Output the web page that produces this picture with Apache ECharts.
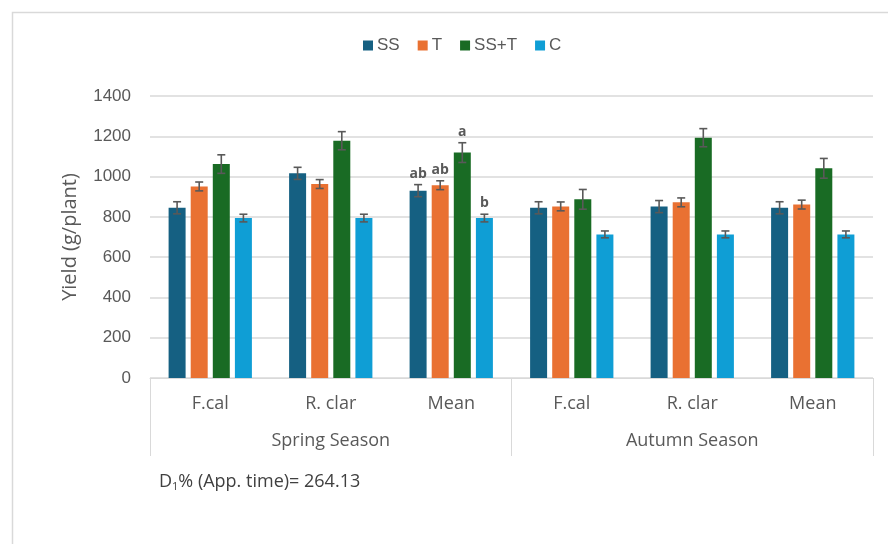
<!DOCTYPE html>
<html>
<head>
<meta charset="utf-8">
<script src="https://cdn.jsdelivr.net/npm/echarts@6/dist/echarts.min.js"></script>
<style>
html,body{margin:0;padding:0;background:#fff;}
#chart{width:888px;height:544px;}
</style>
</head>
<body>
<div id="chart"></div>
<script>
// ---- data ----
const categories = ['F.cal', 'R. clar', 'Mean', 'F.cal', 'R. clar', 'Mean'];
const seasons = ['Spring Season', 'Autumn Season'];
const seriesNames = ['SS', 'T', 'SS+T', 'C'];
const ssValues   = [845, 1016, 930, 845, 851, 845];
const tValues    = [951, 963, 957, 852, 872, 861];
const sstValues  = [1062, 1178, 1119, 887, 1193, 1041];
const cValues    = [794, 794, 794, 713, 713, 713];
const ssErr  = [30, 30, 30, 30, 30, 30];
const tErr   = [22, 22, 22, 22, 22, 22];
const sstErr = [46, 45, 49, 49, 45, 49];
const cErr   = [19, 19, 19, 17, 17, 17];
const ssSig  = ['', '', 'ab', '', '', ''];
const tSig   = ['', '', 'ab', '', '', ''];
const sstSig = ['', '', 'a', '', '', ''];
const cSig   = ['', '', 'b', '', '', ''];
const yTicks = [0, 200, 400, 600, 800, 1000, 1200, 1400];
const noteText = '264.13';

// ---- styles ----
const colors = ['#156082', '#E97132', '#196B24', '#0F9ED5'];
const textColor = '#595959';
const gridColor = '#d9d9d9';
const BAR_W = 17;
const BAR_GAP = 0.3;

const values = [ssValues, tValues, sstValues, cValues];
const errs = [ssErr, tErr, sstErr, cErr];
const sigs = [ssSig, tSig, sstSig, cSig];

const chart = echarts.init(document.getElementById('chart'), null, {renderer: 'canvas'});

const series = [];
seriesNames.forEach((name, si) => {
  series.push({
    name: name,
    type: 'bar',
    xAxisIndex: 0,
    barWidth: BAR_W,
    barGap: (BAR_GAP * 100) + '%',
    itemStyle: {color: colors[si]},
    data: values[si],
    z: 2
  });
});
seriesNames.forEach((name, si) => {
  const data = values[si].map((v, i) => [i, v - errs[si][i], v + errs[si][i], sigs[si][i]]);
  series.push({
    name: name + ' err',
    type: 'custom',
    xAxisIndex: 0,
    z: 5,
    silent: true,
    encode: {x: 0, y: [1, 2]},
    renderItem: function (params, api) {
      const idx = api.value(0);
      const lo = api.coord([idx, api.value(1)]);
      const hi = api.coord([idx, api.value(2)]);
      const step = BAR_W * (1 + BAR_GAP);
      const x = lo[0] + (si - 1.5) * step;
      const cap = 4;
      const st = {stroke: '#595959', lineWidth: 1.6};
      const children = [
        {type: 'line', shape: {x1: x, y1: lo[1], x2: x, y2: hi[1]}, style: st},
        {type: 'line', shape: {x1: x - cap, y1: lo[1], x2: x + cap, y2: lo[1]}, style: st},
        {type: 'line', shape: {x1: x - cap, y1: hi[1], x2: x + cap, y2: hi[1]}, style: st}
      ];
      const sig = data[params.dataIndex][3];
      if (sig) {
        children.push({
          type: 'text',
          style: {
            x: x, y: hi[1] - 4, text: sig,
            align: 'center', verticalAlign: 'bottom',
            fill: '#595959', font: 'bold 14px "Open Sans", "Liberation Sans", sans-serif'
          }
        });
      }
      return {type: 'group', children: children};
    },
    data: data
  });
});

const option = {
  animation: false,
  backgroundColor: '#ffffff',
  color: colors,
  textStyle: {fontFamily: '"Open Sans", "Liberation Sans", sans-serif'},
  legend: {
    data: seriesNames,
    top: 32,
    left: 358,
    itemWidth: 10,
    itemHeight: 10,
    itemGap: 18,
    icon: 'rect',
    textStyle: {color: textColor, fontSize: 17, fontFamily: '"Liberation Sans", Arial, sans-serif', padding: [0, 0, 0, -1]}
  },
  grid: {left: 150, right: 15, top: 96, bottom: 166, containLabel: false},
  xAxis: [
    {
      type: 'category',
      data: categories,
      position: 'bottom',
      axisLine: {show: true, lineStyle: {color: gridColor, width: 1}},
      axisTick: {
        show: true,
        length: 78,
        interval: function (index) { return index % 3 === 0; },
        lineStyle: {color: gridColor, width: 1}
      },
      axisLabel: {color: textColor, fontSize: 18, margin: 17, interval: 0},
      splitLine: {show: false}
    },
    {
      type: 'category',
      data: seasons,
      position: 'bottom',
      offset: 0,
      axisLine: {show: false},
      axisTick: {show: false},
      axisLabel: {color: textColor, fontSize: 18, margin: 54, interval: 0},
      splitLine: {show: false}
    }
  ],
  yAxis: {
    type: 'value',
    min: yTicks[0],
    max: yTicks[yTicks.length - 1],
    interval: yTicks[1] - yTicks[0],
    name: 'Yield (g/plant)',
    nameLocation: 'middle',
    nameGap: 70,
    nameRotate: 90,
    nameTextStyle: {color: textColor, fontSize: 20},
    axisLine: {show: false},
    axisTick: {show: false},
    axisLabel: {
      color: textColor, fontSize: 17, margin: 19,
      fontFamily: '"Liberation Sans", Arial, sans-serif',
      formatter: function (v) { return String(v); }
    },
    splitLine: {show: true, lineStyle: {color: gridColor, width: 1.5}}
  },
  graphic: [
    {
      type: 'rect',
      left: 10, top: 10, silent: true, z: -1,
      shape: {x: 0, y: 0, width: 1000, height: 700},
      style: {fill: 'none', stroke: gridColor, lineWidth: 1.5}
    },
    {
      type: 'text',
      left: 159, top: 473,
      style: {
        text: '{a|D}{s|1}{a|% (App. time)= ' + noteText + '}',
        rich: {
          a: {fontSize: 18, fill: '#404040', fontFamily: '"Open Sans", sans-serif'},
          s: {fontSize: 11, fill: '#404040', fontFamily: '"Open Sans", sans-serif', padding: [9, 0, 0, 0]}
        }
      }
    }
  ],
  series: series
};
chart.setOption(option);
</script>
</body>
</html>
